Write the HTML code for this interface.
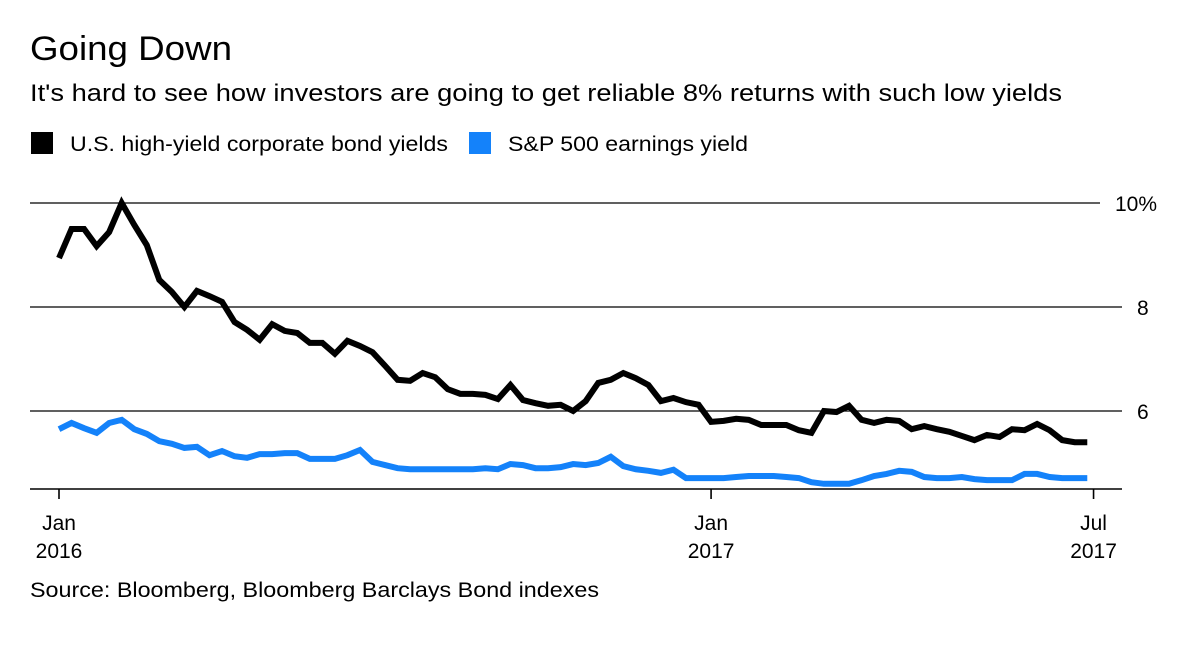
<!DOCTYPE html>
<html><head><meta charset="utf-8"><style>
body{margin:0;background:#fff;width:1200px;height:648px;overflow:hidden;font-family:"Liberation Sans",sans-serif;color:#000}
</style></head><body>
<svg width="1200" height="648" style="position:absolute;left:0;top:0">
<text x="30" y="60" font-size="34" textLength="202" lengthAdjust="spacingAndGlyphs">Going Down</text>
<text x="30" y="101" font-size="24" textLength="1032" lengthAdjust="spacingAndGlyphs">It's hard to see how investors are going to get reliable 8% returns with such low yields</text>
<g>
<rect x="31" y="132" width="22" height="22" fill="#000"/>
<text x="70" y="151" font-size="21" textLength="378" lengthAdjust="spacingAndGlyphs">U.S. high-yield corporate bond yields</text>
<rect x="469" y="132" width="22" height="22" fill="#1482fa"/>
<text x="508" y="151" font-size="21" textLength="240" lengthAdjust="spacingAndGlyphs">S&amp;P 500 earnings yield</text>
</g>
<g id="plot"></g>
<text x="30" y="597" font-size="21" textLength="569" lengthAdjust="spacingAndGlyphs">Source: Bloomberg, Bloomberg Barclays Bond indexes</text>
</svg>
<script>
const hy=[8.94,9.5,9.5,9.17,9.44,10,9.58,9.19,8.52,8.29,8.0,8.31,8.21,8.1,7.71,7.56,7.37,7.67,7.54,7.5,7.31,7.31,7.1,7.35,7.25,7.13,6.87,6.6,6.58,6.73,6.65,6.42,6.33,6.33,6.31,6.23,6.5,6.21,6.15,6.1,6.12,6.0,6.19,6.54,6.6,6.73,6.63,6.5,6.19,6.25,6.17,6.12,5.79,5.81,5.85,5.83,5.73,5.73,5.73,5.63,5.58,6.0,5.98,6.1,5.83,5.77,5.83,5.81,5.65,5.71,5.65,5.6,5.52,5.44,5.54,5.5,5.65,5.63,5.75,5.63,5.44,5.4,5.4];
const sp=[5.65,5.77,5.67,5.58,5.77,5.83,5.65,5.56,5.42,5.37,5.29,5.31,5.15,5.23,5.13,5.1,5.17,5.17,5.19,5.19,5.08,5.08,5.08,5.15,5.25,5.02,4.96,4.9,4.88,4.88,4.88,4.88,4.88,4.88,4.9,4.88,4.98,4.96,4.9,4.9,4.92,4.98,4.96,5.0,5.12,4.94,4.88,4.85,4.81,4.87,4.71,4.71,4.71,4.71,4.73,4.75,4.75,4.75,4.73,4.71,4.63,4.6,4.6,4.6,4.67,4.75,4.79,4.85,4.83,4.73,4.71,4.71,4.73,4.69,4.67,4.67,4.67,4.79,4.79,4.73,4.71,4.71,4.71];
const yTicks=[10,8,6];
const yTickLabels=["10%","8","6"];
const xTickWeeks=[0,52,82.5];
const xTickLabels=[["Jan","2016"],["Jan","2017"],["Jul","2017"]];
const X=i=>59+i*12.54;
const Y=v=>203+(10-v)*52;
const NS="http://www.w3.org/2000/svg";
const g=document.getElementById('plot');
function mk(t,a){const e=document.createElementNS(NS,t);for(const k in a)e.setAttribute(k,a[k]);g.appendChild(e);return e;}
yTicks.forEach((v,i)=>{
 const top=i===0;
 const l=mk('line',{x1:30,x2:top?1100:1122,y1:Y(v),y2:Y(v),stroke:'#000','stroke-width':1.3});
 
 
 const t=mk('text',{x:top?1115:1137,y:Y(v)+8,'font-size':21});
 t.textContent=yTickLabels[i];
 
 
});
const base=mk('line',{x1:30,x2:1122,y1:489,y2:489,stroke:'#000','stroke-width':1.6});


xTickWeeks.forEach((w,i)=>{
 const x=X(w);
 const tk=mk('line',{x1:x,x2:x,y1:489,y2:499,stroke:'#000','stroke-width':1.6});
 
 
 xTickLabels[i].forEach((s,j)=>{
  const t=mk('text',{x:x,y:530+j*28,'font-size':21,'text-anchor':'middle'});
  t.textContent=s;
  
  
 });
});
function line(arr,color,name){
 const p=mk('polyline',{points:arr.map((v,i)=>X(i)+','+Y(v)).join(' '),fill:'none',stroke:color,'stroke-width':6,'stroke-linejoin':'miter'});
 
 
}
line(sp,'#1482fa','sp500-earnings-yield-line');
line(hy,'#000','high-yield-bond-line');
</script>
</body></html>
